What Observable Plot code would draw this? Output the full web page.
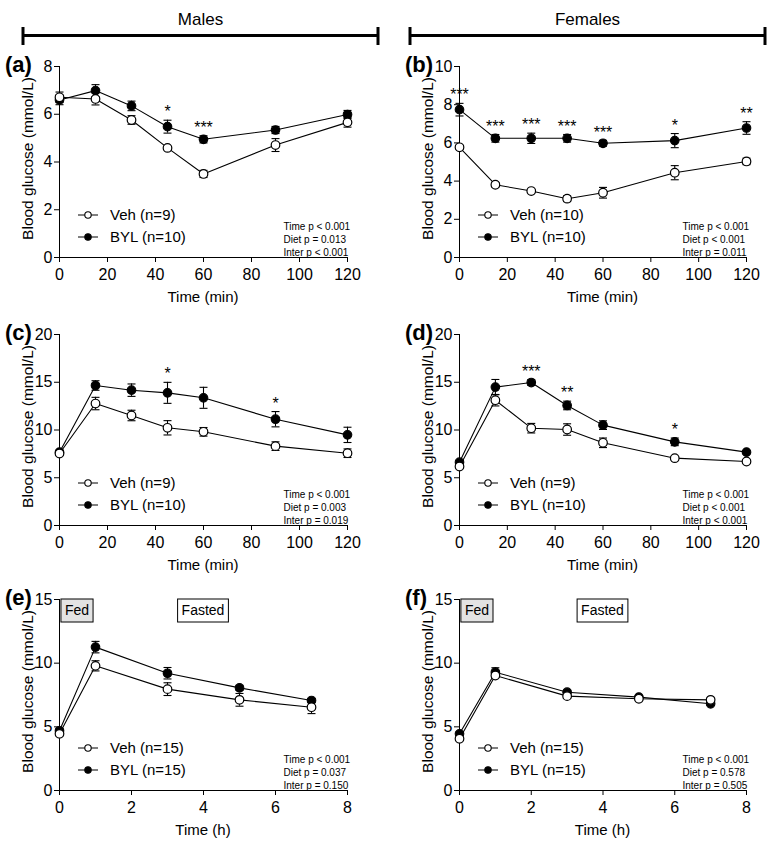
<!DOCTYPE html>
<html>
<head>
<meta charset="utf-8">
<script src="https://cdn.jsdelivr.net/npm/d3@7"></script>
<script src="https://cdn.jsdelivr.net/npm/@observablehq/plot@0.6"></script>
<style>
  body { margin: 0; background: #fff; font-family: "Liberation Sans", Arial, sans-serif; }
  #root { position: relative; width: 775px; height: 842px; overflow: hidden; }
</style>
</head>
<body>
<div id="root"></div>
<script>
// ---------- data ----------
const timesMin = [0, 15, 30, 45, 60, 90, 120];
const timesH = [0, 1, 3, 5, 7];
const minTicks = [0, 20, 40, 60, 80, 100, 120];
const hTicks = [0, 2, 4, 6, 8];

// (a) males
const aVehMean = [6.71, 6.64, 5.76, 4.59, 3.50, 4.71, 5.66];
const aVehSem  = [0.22, 0.25, 0.18, 0.06, 0.15, 0.27, 0.20];
const aBylMean = [6.60, 6.99, 6.35, 5.48, 4.95, 5.34, 5.99];
const aBylSem  = [0.20, 0.25, 0.20, 0.27, 0.15, 0.15, 0.17];
const aStars   = ["", "", "", "*", "***", "", ""];
const aStats   = ["Time p < 0.001", "Diet p = 0.013", "Inter p < 0.001"];

// (b) females
const bVehMean = [5.77, 3.81, 3.48, 3.08, 3.39, 4.44, 5.03];
const bVehSem  = [0.10, 0.12, 0.08, 0.15, 0.28, 0.37, 0.17];
const bBylMean = [7.74, 6.24, 6.24, 6.24, 5.98, 6.12, 6.78];
const bBylSem  = [0.33, 0.20, 0.27, 0.20, 0.15, 0.37, 0.33];
const bStars   = ["***", "***", "***", "***", "***", "*", "**"];
const bStats   = ["Time p < 0.001", "Diet p < 0.001", "Inter p = 0.011"];

// (c) males
const cVehMean = [7.54, 12.77, 11.52, 10.23, 9.81, 8.31, 7.57];
const cVehSem  = [0.20, 0.65, 0.55, 0.75, 0.45, 0.45, 0.45];
const cBylMean = [7.68, 14.66, 14.17, 13.89, 13.37, 11.13, 9.49];
const cBylSem  = [0.20, 0.50, 0.65, 1.10, 1.10, 0.80, 0.80];
const cStars   = ["", "", "", "*", "", "*", ""];
const cStats   = ["Time p < 0.001", "Diet p = 0.003", "Inter p = 0.019"];

// (d) females
const dVehMean = [6.18, 13.12, 10.19, 10.05, 8.66, 7.05, 6.70];
const dVehSem  = [0.15, 0.60, 0.50, 0.60, 0.50, 0.12, 0.12];
const dBylMean = [6.63, 14.49, 14.97, 12.57, 10.51, 8.76, 7.68];
const dBylSem  = [0.15, 0.80, 0.30, 0.45, 0.45, 0.40, 0.15];
const dStars   = ["", "", "***", "**", "", "*", ""];
const dStats   = ["Time p < 0.001", "Diet p < 0.001", "Inter p < 0.001"];

// (e) males
const eVehMean = [4.45, 9.79, 7.96, 7.12, 6.54];
const eVehSem  = [0.15, 0.40, 0.50, 0.50, 0.50];
const eBylMean = [4.69, 11.26, 9.21, 8.06, 7.07];
const eBylSem  = [0.15, 0.45, 0.45, 0.20, 0.15];
const eStats   = ["Time p < 0.001", "Diet p = 0.037", "Inter p = 0.150"];

// (f) females
const fVehMean = [4.06, 9.03, 7.41, 7.20, 7.12];
const fVehSem  = [0.12, 0.15, 0.12, 0.12, 0.12];
const fBylMean = [4.45, 9.29, 7.72, 7.33, 6.81];
const fBylSem  = [0.15, 0.35, 0.15, 0.12, 0.12];
const fStats   = ["Time p < 0.001", "Diet p = 0.578", "Inter p = 0.505"];

const phaseLabels = ["Fed", "Fasted"];
const phaseStart  = [0, 1];
const phaseEnd    = [1, 7];
const phaseFill   = ["#e3e3e3", "#ffffff"];

const groupLabels = ["Males", "Females"];

// ---------- layout ----------
const FONT = '"Liberation Sans", Arial, sans-serif';
const root = document.getElementById("root");
const cols = [
  {left: 0,   width: 387, marginLeft: 59, marginRight: 40},
  {left: 390, width: 385, marginLeft: 69, marginRight: 29}
];
const rowPlotTop = [66, 334, 599];
const MT = 24, MB = 50, PH = 191;

const canvas = document.createElement("canvas");
const ctx2d = canvas.getContext("2d");
function textWidth(t, size) { ctx2d.font = `${size}px ${FONT}`; return ctx2d.measureText(t).width; }

const capSymbol = {
  draw(c, size) { const w = Math.sqrt(size / Math.PI); c.moveTo(-w, 0); c.lineTo(w, 0); }
};

function rows(times, mean, sem, stars) {
  return times.map((t, i) => ({t, m: mean[i], s: sem[i], star: stars ? stars[i] : ""}));
}

function panel(cfg) {
  const col = cols[cfg.col];
  const veh = rows(cfg.times, cfg.vehMean, cfg.vehSem);
  const byl = rows(cfg.times, cfg.bylMean, cfg.bylSem, cfg.stars);
  const both = veh.concat(byl);

  const decor = (index, scales, values, dims) => {
    const {width, height, marginTop, marginBottom, marginLeft, marginRight} = dims;
    const x0 = marginLeft, x1 = width - marginRight, y0 = marginTop, y1 = height - marginBottom;
    const g = d3.create("svg:g").attr("font-family", FONT).attr("fill", "black").attr("text-anchor", "start");
    g.append("text").attr("x", x0 - 54).attr("y", y0 - 2).attr("dy", "0.35em").attr("text-anchor", "start")
      .attr("font-weight", "bold").attr("font-size", 22).text(`(${cfg.letter})`);
    g.append("text").attr("transform", `translate(${x0 - 31},${(y0 + y1) / 2 - 3}) rotate(-90)`)
      .attr("text-anchor", "middle").attr("dy", "0.35em").attr("font-size", 15.5)
      .text("Blood glucose (mmol/L)");
    g.append("text").attr("x", (x0 + x1) / 2).attr("y", y1 + 40).attr("text-anchor", "middle")
      .attr("dy", "0.35em").attr("font-size", 15).text(cfg.xLabel);
    // legend
    const items = [
      {label: `Veh (n=${cfg.nVeh})`, fill: "white", off: 42},
      {label: `BYL (n=${cfg.nByl})`, fill: "black", off: 20}
    ];
    for (const it of items) {
      const yy = y1 - it.off;
      g.append("line").attr("x1", x0 + 19).attr("x2", x0 + 39).attr("y1", yy).attr("y2", yy)
        .attr("stroke", "black").attr("stroke-width", 1);
      g.append("circle").attr("cx", x0 + 29).attr("cy", yy).attr("r", 3.2)
        .attr("fill", it.fill).attr("stroke", "black").attr("stroke-width", 1.1);
      g.append("text").attr("x", x0 + 51).attr("y", yy).attr("dy", "0.35em").attr("text-anchor", "start")
        .attr("font-size", 15).text(it.label);
    }
    // phase boxes
    if (cfg.phases) {
      phaseLabels.forEach((lab, i) => {
        const cx = scales.x((phaseStart[i] + phaseEnd[i]) / 2);
        const w = textWidth(lab, 14) + 8;
        g.append("rect").attr("x", cx - w / 2).attr("y", y0).attr("width", w).attr("height", 23)
          .attr("fill", phaseFill[i]).attr("stroke", "black").attr("stroke-width", 1);
        g.append("text").attr("x", cx).attr("y", y0 + 11.5).attr("dy", "0.35em")
          .attr("text-anchor", "middle").attr("font-size", 14).text(lab);
      });
    }
    return g.node();
  };

  const svg = Plot.plot({
    width: col.width,
    height: MT + PH + MB,
    marginTop: MT, marginBottom: MB, marginLeft: col.marginLeft, marginRight: col.marginRight,
    style: {fontFamily: FONT, fontSize: "16px", color: "black", background: "transparent", overflow: "visible"},
    x: {domain: cfg.xDomain},
    y: {domain: cfg.yDomain},
    marks: [
      Plot.axisX({ticks: cfg.xTicks, tickSize: 5, tickPadding: 6, label: null, fontSize: 16}),
      Plot.axisY({ticks: cfg.yTicks, tickSize: 5, tickPadding: 2, label: null, fontSize: 16}),
      Plot.ruleX([cfg.xDomain[0]], {stroke: "black", strokeWidth: 1}),
      Plot.ruleY([cfg.yDomain[0]], {stroke: "black", strokeWidth: 1}),
      Plot.line(byl, {x: "t", y: "m", stroke: "black", strokeWidth: 1.1}),
      Plot.line(veh, {x: "t", y: "m", stroke: "black", strokeWidth: 1.1}),
      Plot.ruleX(both, {x: "t", y1: d => d.m - d.s, y2: d => d.m + d.s, stroke: "black", strokeWidth: 1.1}),
      Plot.dot(both, {x: "t", y: d => d.m + d.s, symbol: capSymbol, r: 4, fill: "none", stroke: "black", strokeWidth: 1.1}),
      Plot.dot(both, {x: "t", y: d => d.m - d.s, symbol: capSymbol, r: 4, fill: "none", stroke: "black", strokeWidth: 1.1}),
      Plot.dot(byl, {x: "t", y: "m", r: 4.3, fill: "black", stroke: "black", strokeWidth: 1.1}),
      Plot.dot(veh, {x: "t", y: "m", r: 4.3, fill: "white", stroke: "black", strokeWidth: 1.2}),
      Plot.text(byl.filter(d => d.star), {x: "t", y: d => d.m + d.s, text: "star", dy: -8, fontSize: 16, fill: "black"}),
      Plot.text([cfg.stats.join("\n")], {text: d => d, frameAnchor: "bottom-right", textAnchor: "start",
        lineAnchor: "bottom", dx: -64, dy: -2, fontSize: 10, lineHeight: 1.3, fill: "black"}),
      decor
    ]
  });
  svg.style.position = "absolute";
  svg.style.left = col.left + "px";
  svg.style.top = (rowPlotTop[cfg.row] - MT) + "px";
  svg.style.maxWidth = "none";
  root.appendChild(svg);
}

const minCfg = {times: timesMin, xDomain: [0, 120], xTicks: minTicks, xLabel: "Time (min)"};
const hCfg = {times: timesH, xDomain: [0, 8], xTicks: hTicks, xLabel: "Time (h)", phases: true};

panel({...minCfg, letter: "a", col: 0, row: 0, yDomain: [0, 8], yTicks: [0, 2, 4, 6, 8],
  vehMean: aVehMean, vehSem: aVehSem, bylMean: aBylMean, bylSem: aBylSem, stars: aStars, stats: aStats, nVeh: 9, nByl: 10});
panel({...minCfg, letter: "b", col: 1, row: 0, yDomain: [0, 10], yTicks: [0, 2, 4, 6, 8, 10],
  vehMean: bVehMean, vehSem: bVehSem, bylMean: bBylMean, bylSem: bBylSem, stars: bStars, stats: bStats, nVeh: 10, nByl: 10});
panel({...minCfg, letter: "c", col: 0, row: 1, yDomain: [0, 20], yTicks: [0, 5, 10, 15, 20],
  vehMean: cVehMean, vehSem: cVehSem, bylMean: cBylMean, bylSem: cBylSem, stars: cStars, stats: cStats, nVeh: 9, nByl: 10});
panel({...minCfg, letter: "d", col: 1, row: 1, yDomain: [0, 20], yTicks: [0, 5, 10, 15, 20],
  vehMean: dVehMean, vehSem: dVehSem, bylMean: dBylMean, bylSem: dBylSem, stars: dStars, stats: dStats, nVeh: 9, nByl: 10});
panel({...hCfg, letter: "e", col: 0, row: 2, yDomain: [0, 15], yTicks: [0, 5, 10, 15],
  vehMean: eVehMean, vehSem: eVehSem, bylMean: eBylMean, bylSem: eBylSem, stars: null, stats: eStats, nVeh: 15, nByl: 15});
panel({...hCfg, letter: "f", col: 1, row: 2, yDomain: [0, 15], yTicks: [0, 5, 10, 15],
  vehMean: fVehMean, vehSem: fVehSem, bylMean: fBylMean, bylSem: fBylSem, stars: null, stats: fStats, nVeh: 15, nByl: 15});

// ---------- header ----------
const header = d3.create("svg").attr("width", 775).attr("height", 48)
  .style("position", "absolute").style("left", "0px").style("top", "0px");
const brackets = [{x1: 23, x2: 378}, {x1: 410, x2: 765}];
groupLabels.forEach((lab, i) => {
  const b = brackets[i];
  header.append("text").attr("x", (b.x1 + b.x2) / 2).attr("y", 19).attr("dy", "0.35em")
    .attr("text-anchor", "middle").attr("font-family", FONT).attr("font-size", 17).text(lab);
  header.append("line").attr("x1", b.x1).attr("x2", b.x2).attr("y1", 35.5).attr("y2", 35.5)
    .attr("stroke", "black").attr("stroke-width", 3);
  for (const xx of [b.x1, b.x2]) {
    header.append("line").attr("x1", xx).attr("x2", xx).attr("y1", 27).attr("y2", 45)
      .attr("stroke", "black").attr("stroke-width", 3);
  }
});
root.appendChild(header.node());
</script>
</body>
</html>
